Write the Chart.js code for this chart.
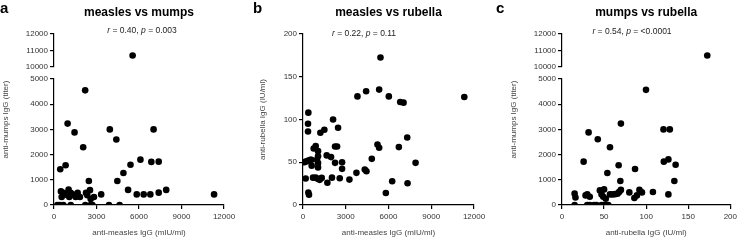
<!DOCTYPE html>
<html>
<head>
<meta charset="utf-8">
<script src="https://cdn.jsdelivr.net/npm/chart.js@4.4.1/dist/chart.umd.min.js"></script>
<style>
  body { margin: 0; background: #fff; width: 740px; height: 241px; position: relative; overflow: hidden; }
  canvas { position: absolute; top: 0; }
</style>
</head>
<body>
<canvas id="chartA" width="250" height="241" style="left:0"></canvas>
<canvas id="chartB" width="250" height="241" style="left:250px"></canvas>
<canvas id="chartC" width="250" height="241" style="left:490px"></canvas>
<script>
// Panel a: anti-measles IgG (mIU/ml) vs anti-mumps IgG (titer)
var measlesA = [5550, 2200, 960, 1450, 2060, 3940, 4400, 7030, 440, 820, 2460, 4470, 4900, 5400, 6100, 6870, 7390,
    5230, 5840, 6330, 6800, 7390, 7920, 11300, 3330,
    490, 540, 660, 850, 1030, 1080, 1180, 1360, 1530, 1670, 1830, 2260, 2350, 2540, 2590, 2820,
    240, 420, 660, 1180, 2210, 2590, 2710, 3880, 4630];
var mumpsA = [10700, 4550, 3230, 2880, 2290, 3000, 2600, 3000, 1420, 1580, 950, 950, 1270, 1600, 1800, 1710, 1720,
    600, 420, 420, 420, 490, 600, 420, 420,
    540, 320, 480, 410, 610, 320, 480, 410, 320, 480, 320, 480, 390, 590, 240, 320,
    0, 0, 0, 0, 0, 0, 0, 0, 0];

// Panel b: anti-measles IgG (mIU/ml) vs anti-rubella IgG (IU/ml)
var measlesB = [375, 352, 352, 94, 234, 375, 516, 586, 188, 375, 422, 609, 703, 750, 891, 985, 1055, 1055, 1055, 1055,
    1055, 891, 1172, 1219, 1500, 1313, 1664, 1711, 1969, 2032, 2110, 2250, 2391, 2461, 2250, 2578, 2742, 2742,
    3258, 3821, 4430, 3750, 4336, 4453, 4828, 5227, 5344, 5344, 5438, 6024, 6258, 5813, 6727, 6821, 7055,
    7313, 7337, 7900, 11320];
var rubellaB = [108, 95, 86, 50, 51, 52, 53, 53, 31, 14.5, 12, 46, 32, 66, 69, 53, 57, 63, 49, 44,
    30.5, 32, 29.4, 84.5, 88, 31.7, 58, 26, 56, 32, 100, 68.5, 68.5, 90.4, 49.3, 31.3, 50, 42.3,
    29.7, 127, 133, 37.6, 41.5, 39.5, 54, 70.8, 66.9, 135, 172.6, 127, 27.8, 14, 67.7, 120.5, 119.7,
    79, 25.4, 49.3, 126.4];

// Panel c: anti-rubella IgG (IU/ml) vs anti-mumps IgG (titer)
var rubellaC = [172.6, 99.8, 70, 31.6, 42.5, 57, 25.7, 53.9, 67.3, 86.8, 69.3, 120.6, 128.1, 121, 126.4, 135, 133.5,
    126.4, 108,
    15, 16, 28, 30, 33, 45, 47, 49, 50, 52, 57, 60, 63, 66, 68, 70, 80, 86, 89, 92, 95,
    15, 30, 33, 38, 41, 47, 50, 52, 55];
var mumpsC = [10700, 4570, 3230, 2880, 2610, 2290, 1720, 1270, 1580, 1430, 950, 3000, 3000, 1720, 1810, 1600, 950,
    420, 515,
    450, 300, 380, 420, 330, 580, 420, 330, 620, 250, 420, 420, 430, 450, 520, 600, 500, 280, 380, 600, 500,
    0, 0, 0, 0, 0, 0, 0, 0, 0];

var titles = ['measles vs mumps', 'measles vs rubella', 'mumps vs rubella'];
var rValues = ['0.40', '0.22', '0.54'];
var pValues = ['0.003', '0.11', '<0.0001'];

var FONT = "'Liberation Sans', Arial, sans-serif";

// titles, letters, r/p line and rotated y-axis titles
var panelText = {
    id: 'panelText',
    afterDraw(chart, args, o) {
        var ctx = chart.ctx;
        var a = chart.chartArea;
        ctx.save();
        ctx.fillStyle = '#000';
        ctx.textBaseline = 'top';
        ctx.textAlign = 'left';
        ctx.font = 'bold 15px ' + FONT;
        ctx.fillText(o.letter, o.letterX, 1);

        ctx.textAlign = 'center';
        ctx.textBaseline = 'middle';
        ctx.font = 'bold 12px ' + FONT;
        ctx.fillText(o.title, (a.left + a.right) / 2, 13);

        // r = ..., p = ... with italic r and p
        var parts = [['r', true], [' = ' + o.r + ', ', false], ['p', true], [' = ' + o.p, false]];
        var total = 0;
        parts.forEach(function (pt) {
            ctx.font = (pt[1] ? 'italic ' : '') + '8.5px ' + FONT;
            total += ctx.measureText(pt[0]).width;
        });
        var x = o.statX - total / 2;
        ctx.textAlign = 'left';
        ctx.fillStyle = '#222';
        parts.forEach(function (pt) {
            ctx.font = (pt[1] ? 'italic ' : '') + '8.5px ' + FONT;
            ctx.fillText(pt[0], x, o.statY);
            x += ctx.measureText(pt[0]).width;
        });

        ctx.fillStyle = '#444';
        ctx.font = '8px ' + FONT;
        ctx.textAlign = 'center';
        ctx.translate(o.yTitleX, (a.top + a.bottom) / 2);
        ctx.rotate(-Math.PI / 2);
        ctx.fillText(o.yTitle, 0, 0);
        ctx.restore();
    }
};

function axisStyle() {
    return {
        border: { color: '#000', width: 1.2 },
        grid: { drawOnChartArea: false, drawTicks: true, tickLength: 4, color: '#000', lineWidth: 1.2 },
        ticks: {
            color: '#333', font: { family: FONT, size: 8 }, padding: 2, autoSkip: false,
            callback: function (v) { return String(v); }
        }
    };
}

function xScale(max, step, title) {
    var s = axisStyle();
    s.type = 'linear';
    s.min = 0;
    s.max = max;
    s.ticks.stepSize = step;
    s.ticks.padding = 3;
    s.title = { display: true, text: title, color: '#444', font: { family: FONT, size: 8 }, padding: { top: 4, bottom: 3 } };
    s.afterFit = function (scale) { scale.height = 36; };
    return s;
}

function yScale(min, max, step, width, extra) {
    var s = axisStyle();
    s.type = 'linear';
    s.position = 'left';
    s.min = min;
    s.max = max;
    s.ticks.stepSize = step;
    s.afterFit = function (scale) { scale.width = width; };
    return Object.assign(s, extra || {});
}

// broken mumps axis: 0-5000 below, 10000-12000 above, empty gap between
function brokenScales(width) {
    return {
        yTop: yScale(10000, 12000, 1000, width, { stack: 'mumps', stackWeight: 33, weight: 2 }),
        yGap: {
            type: 'linear', position: 'left', stack: 'mumps', stackWeight: 12, weight: 1,
            ticks: { display: false }, grid: { display: false }, border: { display: false },
            afterFit: function (scale) { scale.width = width; }
        },
        y: yScale(0, 5000, 1000, width, { stack: 'mumps', stackWeight: 126, weight: 0 })
    };
}

function points(xs, ys, keep) {
    var out = [];
    for (var i = 0; i < xs.length; i++) {
        if (keep(ys[i])) out.push({ x: xs[i], y: ys[i] });
    }
    return out;
}

function dotSet(data, axis) {
    return {
        data: data, yAxisID: axis,
        pointRadius: 3.3, pointHoverRadius: 3.3,
        backgroundColor: '#000', borderColor: '#000', borderWidth: 0, showLine: false
    };
}

function makeChart(id, datasets, scales, padRight, text) {
    return new Chart(document.getElementById(id), {
        type: 'scatter',
        data: { datasets: datasets },
        options: {
            responsive: false,
            animation: false,
            layout: { padding: { top: 34, right: padRight, left: 0, bottom: 0 } },
            plugins: { legend: { display: false }, tooltip: { enabled: false }, panelText: text },
            scales: scales
        },
        plugins: [panelText]
    });
}

var scalesA = brokenScales(54);
scalesA.x = xScale(12000, 3000, 'anti-measles IgG (mIU/ml)');
makeChart('chartA', [
    dotSet(points(measlesA, mumpsA, function (v) { return v <= 5000; }), 'y'),
    dotSet(points(measlesA, mumpsA, function (v) { return v > 5000; }), 'yTop')
], scalesA, 26, {
    letter: 'a', letterX: 0, title: titles[0], r: rValues[0], p: pValues[0],
    statX: 142, statY: 31, yTitle: 'anti-mumps IgG (titer)', yTitleX: 6
});

makeChart('chartB', [
    dotSet(points(measlesB, rubellaB, function () { return true; }), 'y')
], {
    x: xScale(12000, 3000, 'anti-measles IgG (mIU/ml)'),
    y: yScale(0, 200, 50, 53)
}, 26, {
    letter: 'b', letterX: 3, title: titles[1], r: rValues[1], p: pValues[1],
    statX: 114, statY: 34, yTitle: 'anti-rubella IgG (IU/ml)', yTitleX: 13
});

var scalesC = brokenScales(72);
scalesC.x = xScale(200, 50, 'anti-rubella IgG (IU/ml)');
makeChart('chartC', [
    dotSet(points(rubellaC, mumpsC, function (v) { return v <= 5000; }), 'y'),
    dotSet(points(rubellaC, mumpsC, function (v) { return v > 5000; }), 'yTop')
], scalesC, 9, {
    letter: 'c', letterX: 6, title: titles[2], r: rValues[2], p: pValues[2],
    statX: 142, statY: 32, yTitle: 'anti-mumps IgG (titer)', yTitleX: 24
});
</script>
</body>
</html>
